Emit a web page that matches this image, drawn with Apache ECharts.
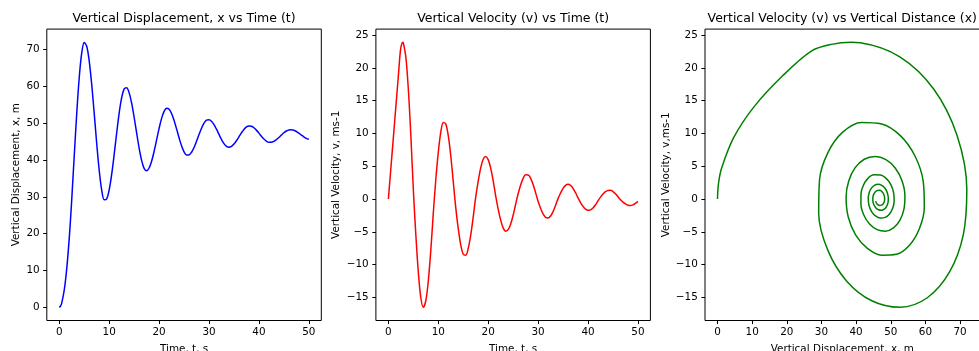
<!DOCTYPE html>
<html>
<head>
<meta charset="utf-8">
<script src="https://cdn.jsdelivr.net/npm/echarts@6/dist/echarts.min.js"></script>
<style>
html,body{margin:0;padding:0;background:#ffffff;}
#chart{width:979px;height:351px;}
</style>
</head>
<body>
<div id="chart"></div>
<script>
// ---- data ----
const time = [0, 0.25, 0.5, 1, 1.5, 2, 2.4, 2.65, 2.89, 3, 3.5, 4, 4.5, 5, 5.5, 6, 6.5, 7, 7.5, 8, 8.5, 9, 9.5, 10,
  10.5, 11, 11.5, 12, 12.5, 13, 13.5, 14, 14.5, 15, 15.5, 16, 16.5, 17, 17.5, 18, 18.5, 19, 19.5, 20,
  20.5, 21, 21.5, 22, 22.5, 23, 23.5, 24, 24.5, 25, 25.5, 26, 26.5, 27, 27.5, 28, 28.5, 29, 29.5, 30,
  30.5, 31, 31.5, 32, 32.5, 33, 33.5, 34, 34.5, 35, 35.5, 36, 36.5, 37, 37.5, 38, 38.5, 39, 39.5, 40,
  40.5, 41, 41.5, 42, 42.5, 43, 43.5, 44, 44.5, 45, 45.5, 46, 46.5, 47, 47.5, 48, 48.5, 49, 49.5, 50];

const displacement = [0, 0.29, 1.18, 4.70, 10.58, 18.80, 27.07, 32.89, 38.60, 41.23, 52.72, 62.43, 69.11, 71.94,
  70.92, 66.92, 60.54, 52.68, 44.52, 37.23, 31.86, 29.20, 29.45, 31.90,
  36.13, 41.54, 47.37, 52.76, 56.95, 59.37, 59.68, 58.27, 55.46, 51.64, 47.37, 43.26, 39.89, 37.73, 37.11, 37.85, 39.68, 42.35, 45.47, 48.61,
  51.33, 53.24, 54.08, 53.80, 52.65, 50.79, 48.48, 46.06, 43.88, 42.25, 41.39, 41.41, 42.13, 43.42, 45.11, 46.94, 48.66, 50.02, 50.83, 50.98,
  50.55, 49.64, 48.39, 46.98, 45.60, 44.46, 43.73, 43.50, 43.74, 44.36, 45.26, 46.33, 47.41, 48.34, 49.00, 49.29, 49.20, 48.79, 48.14, 47.32,
  46.47, 45.71, 45.13, 44.83, 44.84, 45.10, 45.56, 46.15, 46.81, 47.42, 47.90, 48.19, 48.24, 48.09, 47.77, 47.32, 46.81, 46.32, 45.91, 45.64];

const velocity = [0, 2.35, 4.70, 9.40, 14.10, 18.80, 22.56, 23.59, 23.90, 23.83, 21.66, 16.75, 9.72, 1.46,
  -5.45, -11.16, -15.05, -16.50, -15.51, -12.48, -7.83, -2.15, 2.95, 7.12,
  10.20, 11.69, 11.46, 9.68, 6.61, 2.66, -1.30, -4.50, -7.01, -8.42, -8.55, -7.51, -5.49, -2.73, 0.30, 2.73, 4.75, 6.07, 6.50, 6.01,
  4.71, 2.78, 0.48, -1.53, -3.21, -4.39, -4.89, -4.67, -3.82, -2.47, -0.79, 0.81, 2.15, 3.16, 3.69, 3.68, 3.16, 2.21, 0.96, -0.34,
  -1.41, -2.27, -2.79, -2.88, -2.57, -1.91, -0.98, 0.07, 0.92, 1.63, 2.09, 2.25, 2.08, 1.64, 0.97, 0.17, -0.53, -1.12, -1.53, -1.71,
  -1.64, -1.35, -0.87, -0.28, 0.29, 0.76, 1.12, 1.32, 1.33, 1.15, 0.81, 0.35, -0.11, -0.46, -0.75, -0.93, -0.98, -0.89, -0.67, -0.35];

const timeTicks = [0, 10, 20, 30, 40, 50];
const displacementTicks = [0, 10, 20, 30, 40, 50, 60, 70];
const velocityTicks = [-15, -10, -5, 0, 5, 10, 15, 20, 25];
const distanceTicks = [0, 10, 20, 30, 40, 50, 60, 70];

const titles = ['Vertical Displacement, x vs Time (t)', 'Vertical Velocity (v) vs Time (t)', 'Vertical Velocity (v) vs Vertical Distance (x)'];
const xNames = ['Time, t, s', 'Time, t, s', 'Vertical Displacement, x, m'];
const yNames = ['Vertical Displacement, x, m', 'Vertical Velocity, v, ms-1', 'Vertical Velocity, v,ms-1'];

// ---- layout / style ----
const FONT = 'DejaVu Sans';
const TICK_FS = 10.4;
const gridLefts = [46.8, 375.9, 705.0];
const GRID_TOP = 29.1, GRID_W = 274.5, GRID_H = 291.4;
const xRanges = [[-2.5, 52.5], [-2.5, 52.5], [-3.6, 75.6]];
const yRanges = [[-3.6, 75.6], [-18.52, 25.92], [-18.52, 25.92]];
const xTickSets = [timeTicks, timeTicks, distanceTicks];
const yTickSets = [displacementTicks, velocityTicks, velocityTicks];
const yNameGaps = [25.7, 34.8, 33.9];
const colors = ['#0000ff', '#ff0000', '#008000'];

const fmt = v => (v < 0 ? '\u2212' + Math.abs(v) : String(v));

function makeAxis(gi, range, ticks, name, gap) {
  return {
    type: 'value', gridIndex: gi, min: range[0], max: range[1],
    name: name, nameLocation: 'middle', nameGap: gap,
    nameTextStyle: { fontFamily: FONT, fontSize: TICK_FS, color: '#000' },
    axisLine: { show: false, onZero: false },
    splitLine: { show: false },
    axisTick: { show: true, inside: false, length: 3.6, customValues: ticks, lineStyle: { color: '#000', width: 1 } },
    axisLabel: { show: true, margin: 6.5, customValues: ticks, fontFamily: FONT, fontSize: TICK_FS, color: '#000', formatter: fmt }
  };
}

const grids = [], xAxes = [], yAxes = [], graphics = [];
for (let i = 0; i < 3; i++) {
  grids.push({ left: gridLefts[i], top: GRID_TOP, width: GRID_W, height: GRID_H, containLabel: false, outerBoundsMode: 'none',
    show: true, borderColor: '#000', borderWidth: 1, backgroundColor: '#fff' });
  xAxes.push(makeAxis(i, xRanges[i], xTickSets[i], xNames[i], 23.5));
  const ya = makeAxis(i, yRanges[i], yTickSets[i], yNames[i], yNameGaps[i]);
  ya.axisLabel.margin = 7.2;
  yAxes.push(ya);
  graphics.push({ type: 'text', x: gridLefts[i] + GRID_W / 2, y: 12.4, silent: true,
    style: { text: titles[i], fontFamily: FONT, fontSize: 12.5, fill: '#000', align: 'center', verticalAlign: 'top', textAlign: 'center', textVerticalAlign: 'top' } });
}

const series = [
  { data: time.map((t, k) => [t, displacement[k]]) },
  { data: time.map((t, k) => [t, velocity[k]]) },
  { data: displacement.map((x, k) => [x, velocity[k]]) }
].map((s, i) => ({
  type: 'line', xAxisIndex: i, yAxisIndex: i, data: s.data,
  showSymbol: false, symbol: 'none', smooth: 0.33, silent: true,
  lineStyle: { color: colors[i], width: 1.5 }
}));

const chart = echarts.init(document.getElementById('chart'), null, { renderer: 'canvas' });
chart.setOption({
  animation: false,
  backgroundColor: '#ffffff',
  grid: grids, xAxis: xAxes, yAxis: yAxes, series: series, graphic: graphics
});
</script>
</body>
</html>
